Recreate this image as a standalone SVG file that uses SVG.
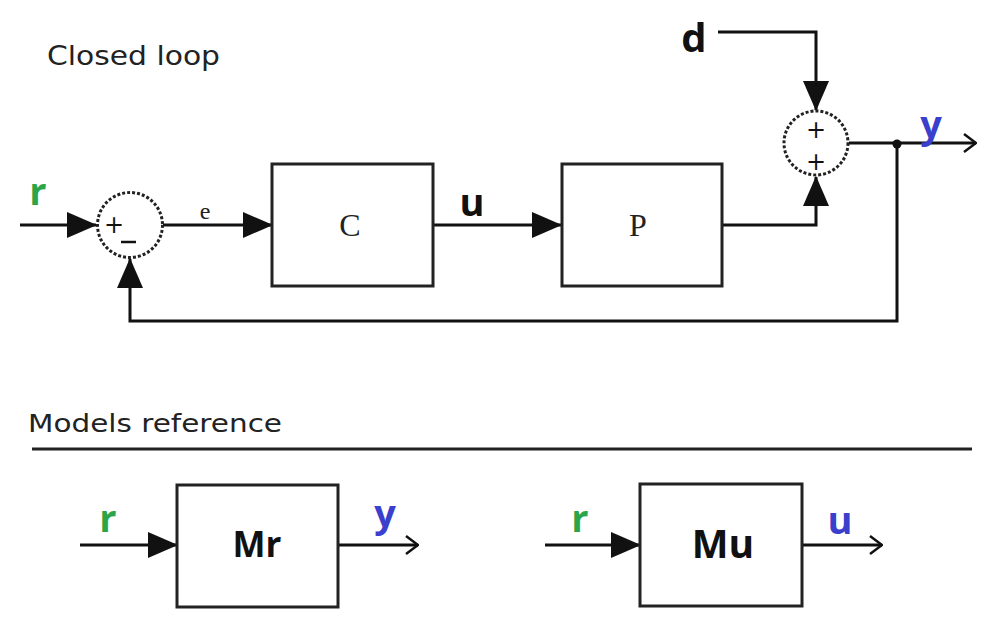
<svg xmlns="http://www.w3.org/2000/svg" width="1004" height="640" viewBox="0 0 1004 640">
  <style>
    .ln { fill: none; stroke: #111; stroke-width: 3; }
    .blk { fill: #fff; stroke: #222; stroke-width: 3; }
    .sum { fill: #fff; stroke: #222; stroke-width: 3; stroke-dasharray: 3 2; }
    .title { font-family: "DejaVu Sans", sans-serif; fill: #222; }
    .sig { font-family: "Open Sans", "Liberation Sans", sans-serif; font-weight: bold; }
    .green { fill: #2aa54a; }
    .blue { fill: #3a3fcc; }
    .black { fill: #111; }
    .mono { font-family: "Liberation Serif", serif; fill: #222; }
    .sign { font-family: "DejaVu Sans", sans-serif; fill: #111; font-size: 24px; text-anchor: middle; }
  </style>
  <defs>
    <marker id="tri" markerWidth="30" markerHeight="26" refX="29" refY="13" orient="auto" markerUnits="userSpaceOnUse">
      <path d="M0,0 L30,13 L0,26 Z" fill="#111"/>
    </marker>
    <marker id="open" markerWidth="14" markerHeight="20" refX="13" refY="10" orient="auto" markerUnits="userSpaceOnUse">
      <path d="M1,1 L13,10 L1,19" fill="none" stroke="#111" stroke-width="2.5"/>
    </marker>
  </defs>

  <rect width="1004" height="640" fill="#fff"/>

  <text class="title" x="47" y="65" font-size="27" textLength="173" lengthAdjust="spacingAndGlyphs">Closed loop</text>
  <text class="title" x="28" y="432" font-size="25" textLength="254" lengthAdjust="spacingAndGlyphs">Models reference</text>
  <line x1="32" y1="449" x2="972" y2="449" stroke="#222" stroke-width="3"/>

  <g id="connectors">
    <!-- r into comparator -->
    <line class="ln" x1="20" y1="225" x2="96" y2="225" marker-end="url(#tri)"/>
    <!-- e into C -->
    <line class="ln" x1="163" y1="225" x2="272" y2="225" marker-end="url(#tri)"/>
    <!-- u into P -->
    <line class="ln" x1="433" y1="225" x2="561" y2="225" marker-end="url(#tri)"/>
    <!-- P output up into disturbance sum -->
    <polyline class="ln" points="722,225 816,225 816,177" marker-end="url(#tri)"/>
    <!-- d into disturbance sum -->
    <polyline class="ln" points="718,32 816,32 816,110" marker-end="url(#tri)"/>
    <!-- y output -->
    <line class="ln" x1="849" y1="143" x2="976" y2="143" marker-end="url(#open)"/>
    <!-- feedback path -->
    <polyline class="ln" points="897,143 897,321 130,321 130,259" marker-end="url(#tri)"/>
    <circle cx="897" cy="144" r="4.5" fill="#111"/>
    <!-- Mr in/out -->
    <line class="ln" x1="80" y1="545" x2="177" y2="545" marker-end="url(#tri)"/>
    <line class="ln" x1="338" y1="545" x2="418" y2="545" marker-end="url(#open)"/>
    <!-- Mu in/out -->
    <line class="ln" x1="545" y1="545" x2="640" y2="545" marker-end="url(#tri)"/>
    <line class="ln" x1="802" y1="545" x2="882" y2="545" marker-end="url(#open)"/>
  </g>

  <g id="sum-error">
    <circle class="sum" cx="130" cy="225" r="32.5"/>
    <text class="sign" x="114" y="233">+</text>
    <line x1="121" y1="242" x2="136" y2="242" stroke="#111" stroke-width="2.5"/>
  </g>

  <g id="sum-disturbance">
    <circle class="sum" cx="816" cy="143" r="32"/>
    <text class="sign" x="816" y="138">+</text>
    <text class="sign" x="816" y="170">+</text>
  </g>

  <g id="block-C">
    <rect class="blk" x="272" y="164" width="161" height="122"/>
    <text class="mono" x="350" y="236" font-size="32" text-anchor="middle">C</text>
  </g>

  <g id="block-P">
    <rect class="blk" x="562" y="164" width="160" height="122"/>
    <text class="mono" x="638" y="236" font-size="32" text-anchor="middle">P</text>
  </g>

  <g id="block-Mr">
    <rect class="blk" x="177" y="485" width="161" height="122"/>
    <text class="sig black" x="257" y="557" font-size="35" text-anchor="middle">Mr</text>
  </g>

  <g id="block-Mu">
    <rect class="blk" x="640" y="484" width="162" height="122"/>
    <text class="sig black" x="723" y="558" font-size="39" text-anchor="middle">Mu</text>
  </g>

  <g id="labels">
    <text class="sig green" x="38" y="205" font-size="38" text-anchor="middle">r</text>
    <text class="mono" x="205" y="219" font-size="24" text-anchor="middle">e</text>
    <text class="sig black" x="472" y="216" font-size="38" text-anchor="middle">u</text>
    <text class="sig black" x="694" y="52" font-size="40" text-anchor="middle">d</text>
    <text class="sig blue" x="931" y="138" font-size="38" text-anchor="middle">y</text>
    <text class="sig green" x="108" y="532" font-size="38" text-anchor="middle">r</text>
    <text class="sig blue" x="385" y="527" font-size="38" text-anchor="middle">y</text>
    <text class="sig green" x="580" y="532" font-size="38" text-anchor="middle">r</text>
    <text class="sig blue" x="840" y="534" font-size="38" text-anchor="middle">u</text>
  </g>
</svg>
